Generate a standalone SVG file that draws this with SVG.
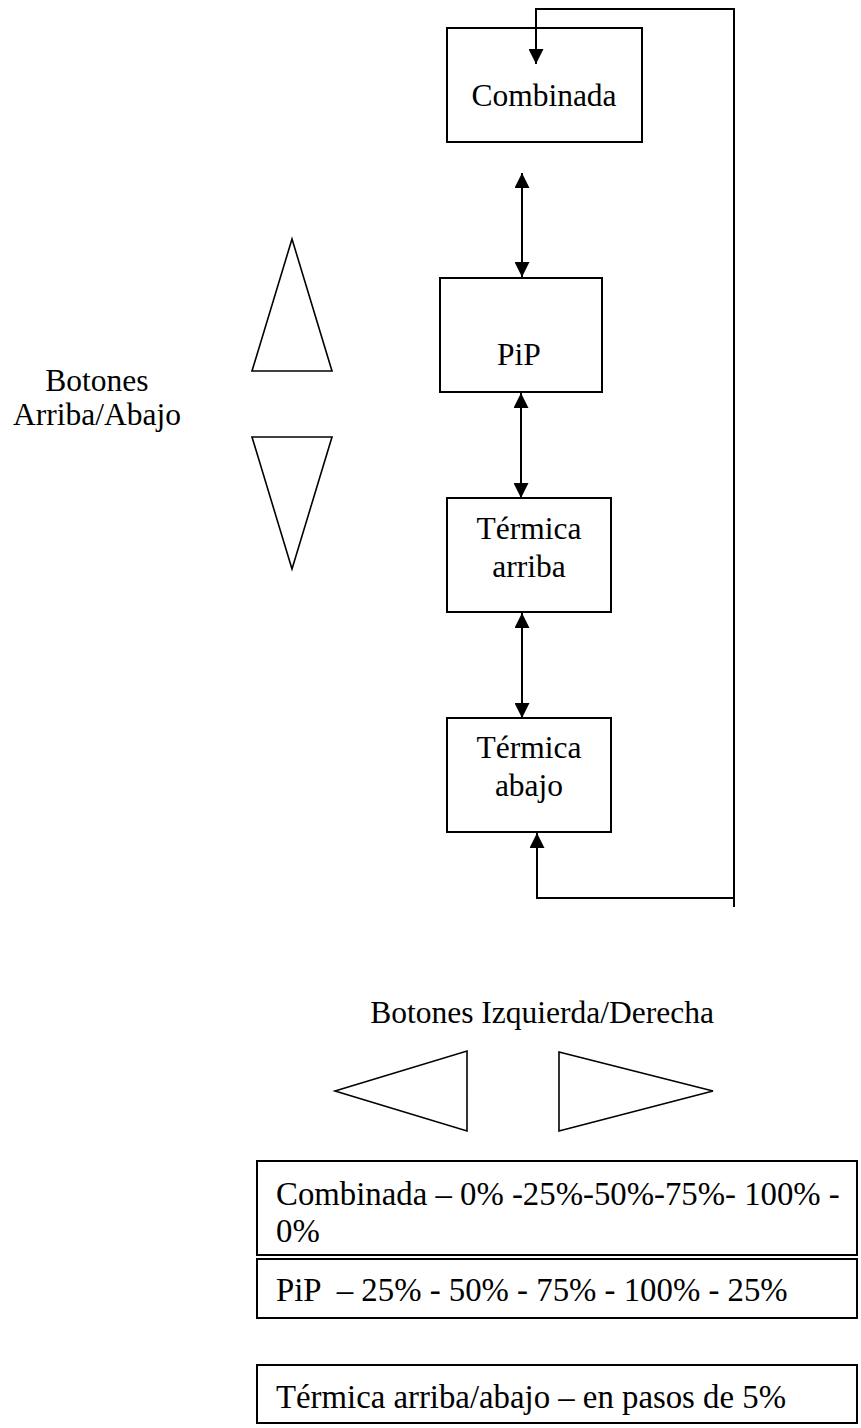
<svg xmlns="http://www.w3.org/2000/svg" width="861" height="1428" viewBox="0 0 861 1428">
<style>
  .box { fill: #fff; stroke: #000; stroke-width: 2; }
  .tri { fill: #fff; stroke: #000; stroke-width: 1.6; }
  .ln { fill: none; stroke: #000; stroke-width: 2; }
  text { font-family: "Liberation Serif", "Times New Roman", serif; font-size: 31.5px; fill: #000; }
  .lg { font-size: 32.8px; }
  .c { text-anchor: middle; }
</style>
<defs>
  <marker id="ahb" viewBox="0 0 10 10" refX="10" refY="5" markerWidth="15" markerHeight="15" markerUnits="userSpaceOnUse" orient="auto-start-reverse">
    <path d="M0,0 L10,5 L0,10 z" fill="#000"/>
  </marker>
</defs>
<rect width="861" height="1428" fill="#fff"/>

<g id="n-combinada">
  <rect class="box" x="447" y="28" width="195" height="114"/>
  <text class="c" x="544" y="106">Combinada</text>
</g>
<g id="n-pip">
  <rect class="box" x="440" y="278" width="162" height="114"/>
  <text class="c" x="519" y="365">PiP</text>
</g>
<g id="n-termica-arriba">
  <rect class="box" x="447" y="498" width="164" height="114"/>
  <text class="c" x="529" y="539">Térmica</text>
  <text class="c" x="529" y="577">arriba</text>
</g>
<g id="n-termica-abajo">
  <rect class="box" x="447" y="718" width="164" height="114"/>
  <text class="c" x="529" y="758">Térmica</text>
  <text class="c" x="529" y="796">abajo</text>
</g>

<g id="connectors">
  <line class="ln" x1="522" y1="173" x2="522" y2="277" marker-start="url(#ahb)" marker-end="url(#ahb)"/>
  <line class="ln" x1="521" y1="393" x2="521" y2="498" marker-start="url(#ahb)" marker-end="url(#ahb)"/>
  <line class="ln" x1="522" y1="613" x2="522" y2="718" marker-start="url(#ahb)" marker-end="url(#ahb)"/>
  <polyline class="ln" points="734,907 734,9 536,9 536,64" marker-end="url(#ahb)"/>
  <polyline class="ln" points="734,898 537,898 537,833" marker-end="url(#ahb)"/>
</g>

<g id="updown-buttons">
  <polygon class="tri" points="292,239 332,371 252,371"/>
  <polygon class="tri" points="252,437 332,437 292,569"/>
  <text class="c" x="97" y="391">Botones</text>
  <text class="c" x="97" y="425">Arriba/Abajo</text>
</g>

<g id="leftright-buttons">
  <text class="c" x="542" y="1023">Botones Izquierda/Derecha</text>
  <polygon class="tri" points="335,1091 467,1051 467,1131"/>
  <polygon class="tri" points="559,1052 713,1091 559,1131"/>
</g>

<g id="legend-combinada">
  <rect class="box" x="257" y="1161" width="600" height="94"/>
  <text class="lg" x="276" y="1205">Combinada – 0% -25%-50%-75%- 100% -</text>
  <text class="lg" x="276" y="1242">0%</text>
</g>
<g id="legend-pip">
  <rect class="box" x="257" y="1259" width="600" height="59"/>
  <text class="lg" x="276" y="1301" xml:space="preserve">PiP  – 25% - 50% - 75% - 100% - 25%</text>
</g>
<g id="legend-termica">
  <rect class="box" x="257" y="1365" width="600" height="58"/>
  <text class="lg" x="276" y="1408">Térmica arriba/abajo – en pasos de 5%</text>
</g>
</svg>
